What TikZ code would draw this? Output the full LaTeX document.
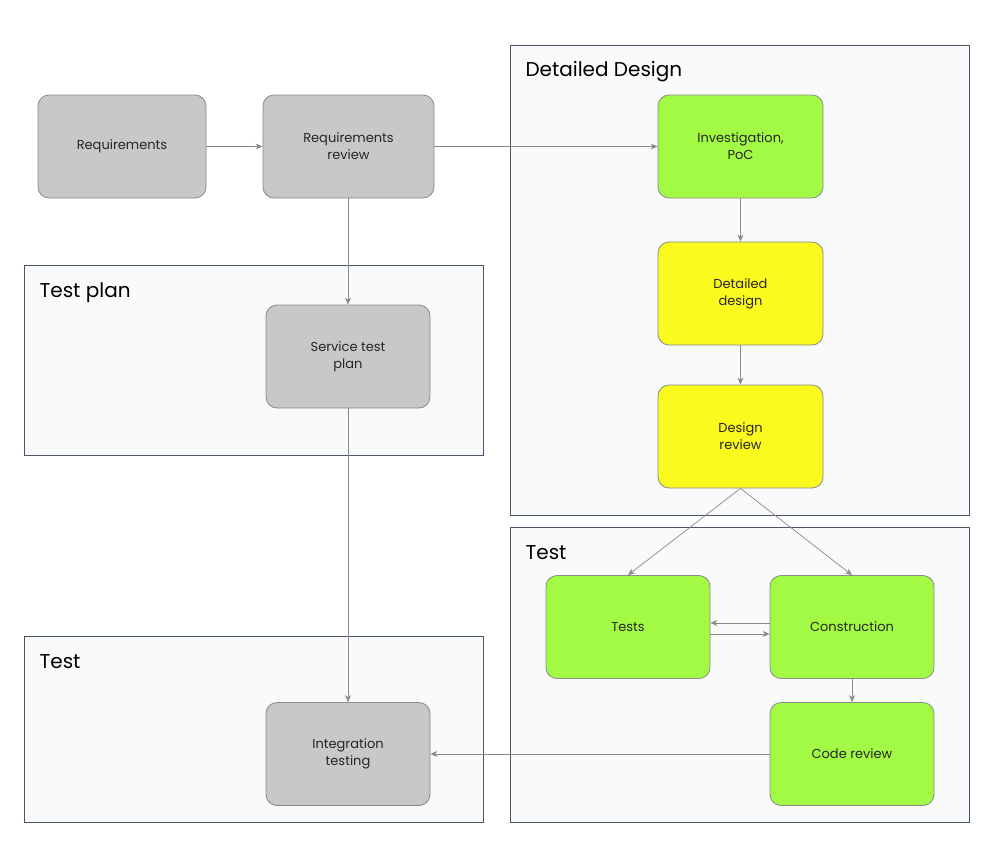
\documentclass[tikz,border=0pt]{standalone}
\usepackage{fontspec}
\setmainfont{Poppins}
\usetikzlibrary{arrows.meta}
\definecolor{gfill}{HTML}{C8C7C9}
\definecolor{grn}{HTML}{A3FA45}
\definecolor{yel}{HTML}{FAFA1E}
\definecolor{edge}{HTML}{8A8A8A}
\definecolor{cbord}{HTML}{4A5568}
\definecolor{cfill}{HTML}{F9FAFB}
\tikzset{
 x=1pt,y=-1pt,
 box/.style={draw=edge,line width=0.8pt,rounded corners=11pt,minimum width=165pt,minimum height=103pt,align=center,font=\fontsize{13}{17}\selectfont,text=black!85},
 graybox/.style={box,fill=gfill},
 greenbox/.style={box,fill=grn},
 yellowbox/.style={box,fill=yel},
 cont/.style={draw=cbord,line width=1pt,fill=cfill},
 ctitle/.style={anchor=west,font=\fontsize{20}{24}\selectfont,text=black},
 conn/.style={draw=edge,line width=0.7pt,-{Stealth[length=7pt,width=6pt]}}
}
\begin{document}
\begin{tikzpicture}
\useasboundingbox (0,0) rectangle (989,844);
\fill[white] (0,0) rectangle (989,844);
\draw[cont] (510,45) rectangle (969,515);
\node[ctitle] (t1) at (522,72) {Detailed Design};
\draw[cont] (24,265) rectangle (483,455);
\node[ctitle] (t2) at (36,293) {Test plan};
\draw[cont] (510,527) rectangle (969,822);
\node[ctitle] (t3) at (522,553) {Test};
\draw[cont] (24,636) rectangle (483,822);
\node[ctitle] (t4) at (36,662) {Test};

\node[graybox,minimum width=168pt] (req) at (122,146.5) {Requirements};
\node[graybox,minimum width=171pt] (rr) at (348.5,146.5) {Requirements\\review};
\node[greenbox] (inv) at (740.5,146.5) {Investigation,\\PoC};
\node[yellowbox] (dd) at (740.5,293.5) {Detailed\\design};
\node[yellowbox] (dr) at (740.5,436.5) {Design\\review};
\node[graybox,minimum width=164pt] (stp) at (348,356.5) {Service test\\plan};
\node[greenbox,minimum width=164pt] (tests) at (628,627) {Tests};
\node[greenbox,minimum width=164pt] (cons) at (852,627) {Construction};
\node[greenbox,minimum width=164pt] (cr) at (852,754) {Code review};
\node[graybox,minimum width=164pt] (it) at (348,754) {Integration\\testing};

\draw[conn] (req) -- (rr);
\draw[conn] (rr) -- (inv);
\draw[conn] (inv) -- (dd);
\draw[conn] (dd) -- (dr);
\draw[conn] (rr.south -| stp.north) -- (stp);
\draw[conn] (dr.south) -- (tests.north);
\draw[conn] (dr.south) -- (cons.north);
\draw[conn] ([yshift=-7pt]tests.east) -- ([yshift=-7pt]cons.west);
\draw[conn] ([yshift=4pt]cons.west) -- ([yshift=4pt]tests.east);
\draw[conn] (cons) -- (cr);
\draw[conn] (cr) -- (it);
\draw[conn] (stp) -- (it);
\end{tikzpicture}
\end{document}
